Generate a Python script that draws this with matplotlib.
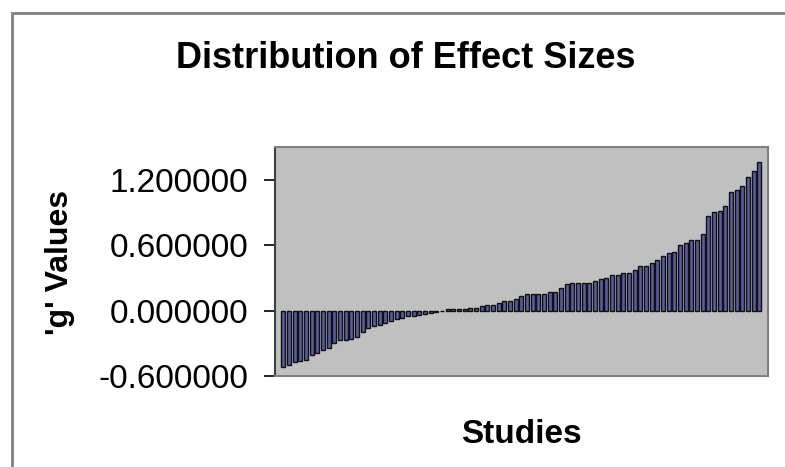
import numpy as np
import matplotlib.pyplot as plt
from matplotlib.patches import Rectangle

# effect sizes, sorted
neg_g = [-0.52, -0.50, -0.47, -0.46, -0.45, -0.41, -0.39, -0.36, -0.34, -0.30,
         -0.27, -0.27, -0.26, -0.24, -0.20, -0.16, -0.14, -0.13, -0.11, -0.10,
         -0.08, -0.07, -0.05, -0.05, -0.04, -0.03, -0.02, -0.01]
mid_g = [0.0, 0.01, 0.01, 0.01, 0.015, 0.02, 0.025, 0.04, 0.05, 0.05,
         0.07, 0.09, 0.09, 0.11, 0.13, 0.155, 0.155, 0.155, 0.155, 0.17,
         0.17, 0.21, 0.24, 0.25, 0.25, 0.25, 0.25, 0.27, 0.29]
high_g = [0.30, 0.33, 0.33, 0.345, 0.345, 0.375, 0.41, 0.41, 0.44, 0.46,
          0.50, 0.53, 0.54, 0.60, 0.62, 0.65, 0.65, 0.70, 0.87, 0.90,
          0.915, 0.955, 1.09, 1.11, 1.14, 1.23, 1.285, 1.36]
g_values = neg_g + mid_g + high_g
studies = np.arange(len(g_values))
y_ticks = [-0.6, 0.0, 0.6, 1.2]

plt.rcParams['font.family'] = ['Liberation Sans', 'DejaVu Sans']

fig = plt.figure(figsize=(7.85, 4.67), dpi=100)
fig.patch.set_facecolor('white')

# chart area frame (only left and top visible in the crop)
fig.patches.append(Rectangle((12 / 785, -0.1), 1.2, (467 - 13) / 467 + 0.1,
                             transform=fig.transFigure, fill=False,
                             edgecolor='#808080', linewidth=2))

ax = fig.add_axes([0.350, 0.195, 0.628, 0.490])
ax.set_facecolor('#c0c0c0')
ax.bar(studies, g_values, width=0.7, color='#5a5aa0', edgecolor='#101010', linewidth=1.0)

ax.set_xlim(-1.5, len(g_values) + 0.5)
ax.set_ylim(-0.6, 1.5)
ax.set_yticks(y_ticks)
ax.set_yticklabels([f"{v:.6f}" for v in y_ticks])
ax.set_xticks([])
ax.tick_params(axis='y', direction='out', length=8, width=1.2, pad=11,
               labelsize=24, colors='black')

for side in ['top', 'right', 'bottom']:
    ax.spines[side].set_color('#808080')
    ax.spines[side].set_linewidth(1.5)
ax.spines['left'].set_color('#404040')
ax.spines['left'].set_linewidth(1.5)

ax.set_xlabel("Studies", fontsize=24, fontweight='bold')
ax.xaxis.set_label_coords(0.5, -0.19)
ax.set_ylabel("'g' Values", fontsize=23, fontweight='bold')
ax.yaxis.set_label_coords(-0.405, 0.495)

fig.text(406 / 785, 1 - 68 / 467, "Distribution of Effect Sizes",
         ha='center', va='baseline', fontsize=26, fontweight='bold')

fig.savefig("out.png", dpi=100)
